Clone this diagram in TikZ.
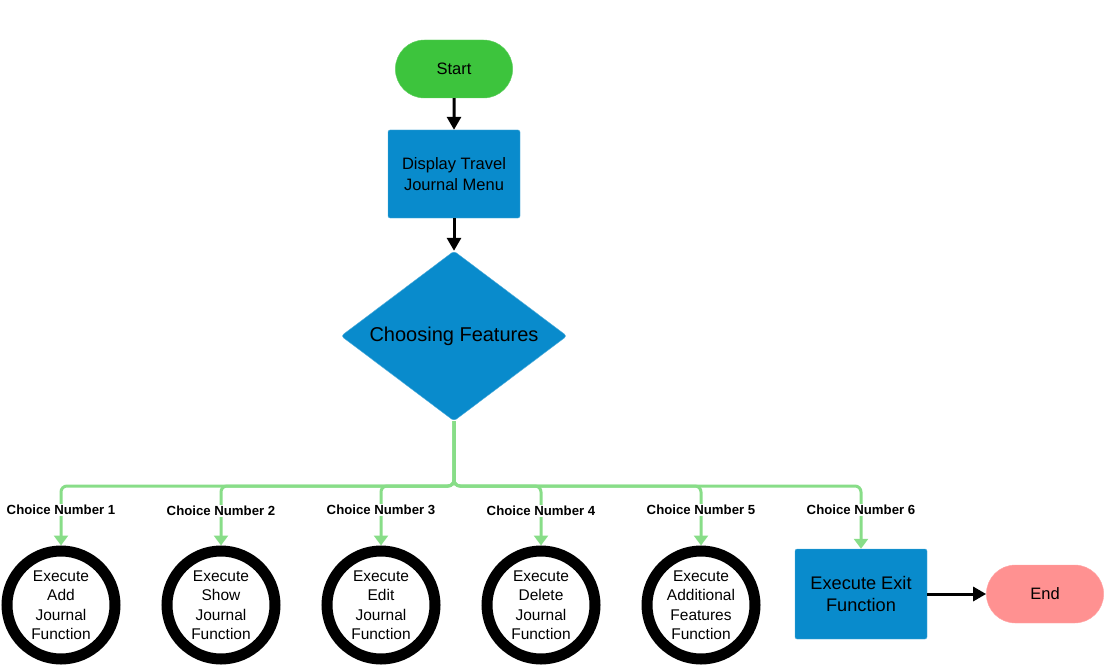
\documentclass[tikz,border=0pt]{standalone}
\usepackage{fontspec}
\setmainfont{Liberation Sans}
\usepackage{tikz}
\usetikzlibrary{positioning, arrows.meta, shapes.geometric, shapes.misc, backgrounds}
\definecolor{myblue}{RGB}{9, 139, 204}
\definecolor{mygreen}{RGB}{61, 196, 61}
\definecolor{mypink}{RGB}{255, 145, 145}
\definecolor{mylime}{RGB}{136, 221, 136}

\begin{document}
\begin{tikzpicture}[
    x=1pt, y=-1pt,
    % --- stili dei nodi ---
    terminal/.style={rounded rectangle, minimum width=124, minimum height=58, font=\fontsize{16.5}{19}\selectfont},
    start_node/.style={terminal, fill=mygreen, draw=mygreen!80!white},
    end_node/.style={terminal, fill=mypink, draw=mypink!80!white},
    process/.style={rectangle, rounded corners=2, fill=myblue, draw=myblue!70!white, align=center, inner sep=0},
    decision/.style={diamond, aspect=1.33, minimum width=226, minimum height=170, fill=myblue, draw=myblue!70!white, rounded corners=3, inner sep=0, font=\fontsize{20}{23}\selectfont},
    action/.style={circle, draw=black, line width=11, minimum size=108, inner sep=0, align=center, font=\fontsize{15.5}{19.5}\selectfont},
    choice/.style={fill=white, inner sep=1.5, font=\bfseries\fontsize{13.2}{15}\selectfont},
    flow/.style={line width=3, -{Triangle[length=13, width=14]}},
    branch/.style={draw=mylime, line width=3, rounded corners=6, -{Triangle[length=10, width=14]}}
]
\useasboundingbox (0,0) rectangle (1105,666);

% 1. Inizio, menu e scelta
\node (start) [start_node] at (454, 69) {Start};
\node (menu) [process, minimum width=132, minimum height=88, font=\fontsize{16.5}{21}\selectfont] at (454, 174) {Display Travel\\Journal Menu};
\node (choose) [decision] at (454, 336) {Choosing Features};

\draw[flow] (start) -- (menu);
\draw[flow] (menu) -- (choose);

% 2. Le funzioni eseguite
\node (add) [action] at (61, 605) {Execute\\Add\\Journal\\Function};
\node (show) [action] at (221, 605) {Execute\\Show\\Journal\\Function};
\node (edit) [action] at (381, 605) {Execute\\Edit\\Journal\\Function};
\node (delete) [action] at (541, 605) {Execute\\Delete\\Journal\\Function};
\node (extra) [action] at (701, 605) {Execute\\Additional\\Features\\Function};
\node (exit) [process, minimum width=132, minimum height=90, font=\fontsize{18.2}{22}\selectfont] at (861, 594) {Execute Exit\\Function};
\node (end) [end_node] at (1045, 594) {End};

% 3. Le diramazioni verdi
\coordinate (split) at (454, 486);
\draw[branch] (choose.south) -- (split) -| (add.north);
\draw[branch] (choose.south) -- (split) -| (show.north);
\draw[branch] (choose.south) -- (split) -| (edit.north);
\draw[branch] (choose.south) -- (split) -| (delete.north);
\draw[branch] (choose.south) -- (split) -| (extra.north);
\draw[branch] (choose.south) -- (split) -| (exit.north);

\draw[flow] (exit) -- (end);

% 4. Etichette delle scelte
\node (lab1) [choice] at (61, 510) {Choice Number 1};
\node (lab2) [choice] at (221, 511) {Choice Number 2};
\node (lab3) [choice] at (381, 510) {Choice Number 3};
\node (lab4) [choice] at (541, 511) {Choice Number 4};
\node (lab5) [choice] at (701, 510) {Choice Number 5};
\node (lab6) [choice] at (861, 510) {Choice Number 6};
\end{tikzpicture}
\end{document}
